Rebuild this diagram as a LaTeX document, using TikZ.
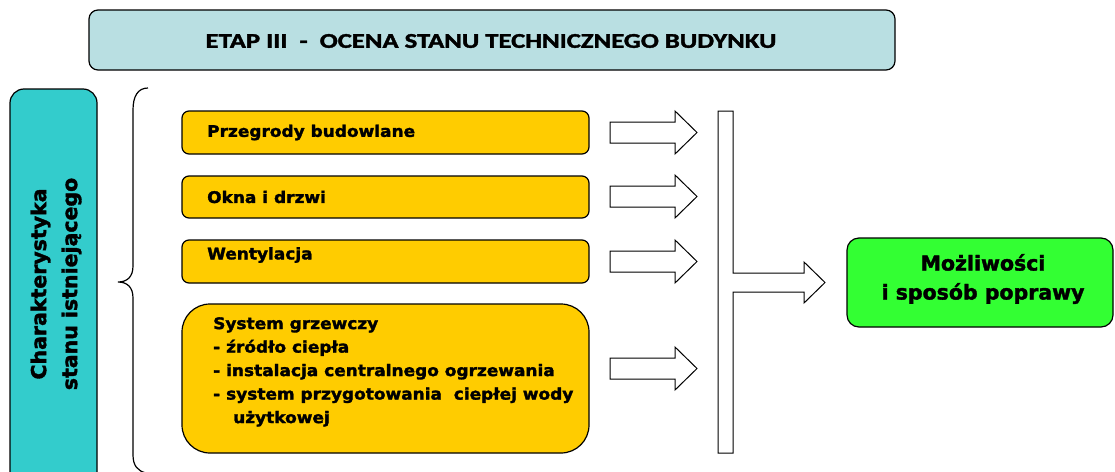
\documentclass[tikz,border=0pt]{standalone}
\usepackage{fontspec}
\setmainfont{DejaVu Sans}
\newfontfamily\vb{DejaVu Sans Bold}[FakeBold=1.8]
\newfontfamily\calibri{Carlito Bold}[FakeBold=1.5]
\definecolor{titlefill}{HTML}{B9DFE2}
\definecolor{cyanfill}{HTML}{33CCCC}
\definecolor{yellowfill}{HTML}{FFCC00}
\definecolor{greenfill}{HTML}{33FF33}
\begin{document}
\begin{tikzpicture}[x=1pt,y=-1pt,
  box/.style={draw=black, line width=1.2pt},
  ybox/.style={box, fill=yellowfill, rounded corners=7pt},
  ytext/.style={anchor=west, inner sep=0pt, font=\vb\fontsize{16}{18}\selectfont},
  blockarrow/.style={draw=black, line width=1pt, fill=white, line join=miter}
]
\useasboundingbox (0,0) rectangle (1115,471);
% title
\draw[box, fill=titlefill, rounded corners=9pt] (89,10) rectangle (895,70);
\node[font=\calibri\fontsize{21}{24}\selectfont] (title) at (491,41) {\scalebox{1.27}[1]{ETAP III\ \ -\ \ OCENA STANU TECHNICZNEGO BUDYNKU}};
% left box
\draw[box, fill=cyanfill, rounded corners=14pt] (10,89) rectangle (97,490);
\node[rotate=90, align=center, font=\vb\fontsize{20.5}{31}\selectfont] (left) at (56,284) {Charakterystyka\\stanu istniejącego};
% brace
\draw[line width=1.2pt] (148,88) .. controls (138,88) and (133,96) .. (133,110) -- (133,266)
  .. controls (133,277) and (127,282) .. (118,282)
  .. controls (127,282) and (133,287) .. (133,298) -- (133,455)
  .. controls (133,466) and (138,471) .. (146,473);
% yellow boxes
\draw[ybox] (182,111) rectangle (589,154);
\node[ytext] (b1) at (207,132.5) {\scalebox{1.06}[1]{Przegrody budowlane}};
\draw[ybox] (182,176) rectangle (589,218);
\node[ytext] (b2) at (207,197) {\scalebox{1.06}[1]{Okna i drzwi}};
\draw[ybox] (182,240) rectangle (589,283);
\node[ytext] (b3) at (207,255) {\scalebox{1.06}[1]{Wentylacja}};
\draw[ybox, rounded corners=28pt] (182,304) rectangle (589,453);
\node[anchor=north west, inner sep=0pt, align=left, font=\vb\fontsize{16}{23.5}\selectfont] (b4) at (213,317)
  {\scalebox{1.06}[1]{System grzewczy}\\\scalebox{1.06}[1]{- źródło ciepła}\\\scalebox{1.06}[1]{- instalacja centralnego ogrzewania}\\\scalebox{1.06}[1]{- system przygotowania\ \ ciepłej wody}\\\hspace*{20pt}\scalebox{1.06}[1]{użytkowej}};
% block arrows
\foreach \c in {132.5,196.5,261.5,368.5}{
  \draw[blockarrow] (610,\c-10.5) -- (675,\c-10.5) -- (675,\c-21.5) -- (697,\c) -- (675,\c+21.5) -- (675,\c+10.5) -- (610,\c+10.5) -- cycle;
}
% T bar with arrow
\draw[blockarrow] (718,111) -- (733,111) -- (733,273) -- (804,273) -- (804,262) -- (825,282.5) -- (804,303) -- (804,292) -- (733,292) -- (733,453) -- (718,453) -- cycle;
% green box
\draw[box, fill=greenfill, rounded corners=12pt] (847,238) rectangle (1113,327);
\node[align=center, font=\vb\fontsize{20.5}{29}\selectfont] (res) at (983,279) {Możliwości\\i sposób poprawy};
\end{tikzpicture}
\end{document}
